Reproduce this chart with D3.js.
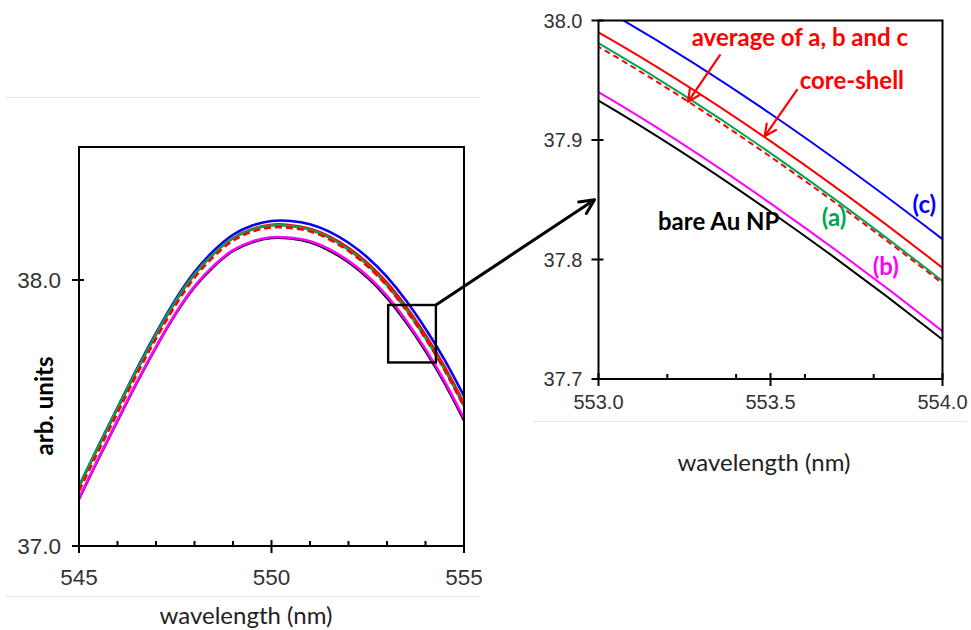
<!DOCTYPE html>
<html>
<head>
<meta charset="utf-8">
<script src="https://cdn.jsdelivr.net/npm/d3@7/dist/d3.min.js"></script>
<style>
  html, body { margin: 0; padding: 0; background: #fff; }
  svg { display: block; }
</style>
</head>
<body>
<svg id="chart" width="971" height="630"></svg>
<script>
// ---------------- DATA ----------------
const wavelengths = [545, 545.5, 546, 546.5, 547, 547.5, 548, 548.5, 549, 549.5, 550,
                     550.5, 551, 551.5, 552, 552.5, 553, 553.5, 554, 554.5, 555];
// (c)
const seriesC = [37.225, 37.375, 37.520, 37.665, 37.800, 37.925, 38.030, 38.110, 38.170, 38.205, 38.222,
                 38.222, 38.210, 38.182, 38.140, 38.084, 38.012, 37.922, 37.817, 37.699, 37.564];
// (a)
const seriesA = [37.225, 37.374, 37.518, 37.661, 37.795, 37.918, 38.021, 38.099, 38.157, 38.190, 38.205,
                 38.203, 38.189, 38.159, 38.114, 38.056, 37.981, 37.889, 37.782, 37.663, 37.526];
// core-shell
const seriesCoreShell = [37.223, 37.372, 37.516, 37.660, 37.794, 37.917, 38.021, 38.099, 38.158, 38.192, 38.208,
                 38.206, 38.193, 38.164, 38.121, 38.063, 37.990, 37.899, 37.793, 37.673, 37.537];
// average of a, b and c
const seriesAverage = [37.207, 37.356, 37.501, 37.645, 37.780, 37.904, 38.009, 38.088, 38.148, 38.182, 38.198,
                 38.196, 38.183, 38.153, 38.109, 38.051, 37.978, 37.886, 37.780, 37.660, 37.524];
// (b)
const seriesB = [37.179, 37.328, 37.472, 37.615, 37.749, 37.872, 37.976, 38.054, 38.112, 38.145, 38.161,
                 38.159, 38.146, 38.116, 38.072, 38.014, 37.940, 37.847, 37.740, 37.618, 37.480];
// bare Au NP
const seriesBare = [37.177, 37.326, 37.470, 37.613, 37.747, 37.870, 37.973, 38.051, 38.109, 38.142, 38.158,
                 38.156, 38.142, 38.111, 38.067, 38.008, 37.933, 37.840, 37.733, 37.611, 37.472];

const seriesNames  = ["bare Au NP", "(b)", "(c)", "core-shell", "(a)", "average of a, b and c"];
const seriesValues = [seriesBare, seriesB, seriesC, seriesCoreShell, seriesA, seriesAverage];
const seriesColors = ["#000000", "#ff00ff", "#0000ff", "#ff0000", "#00a550", "#ff0000"];
const seriesDashed = [false, false, false, false, false, true];

const leftXDomain = [545, 555];
const leftYDomain = [37.0, 38.5];
const leftXMajorTicks = [545, 550, 555];
const leftXMinorTicks = [546, 547, 548, 549, 551, 552, 553, 554];
const leftYTicks = [37.0, 38.0];

const rightXDomain = [553.0, 554.0];
const rightYDomain = [37.7, 38.0];
const rightXMajorTicks = [553.0, 553.5, 554.0];
const rightXMinorTicks = [553.2, 553.4, 553.6, 553.8];
const rightYTicks = [37.7, 37.8, 37.9, 38.0];

const zoomBoxX = [553.03, 554.27];
const zoomBoxY = [37.69, 37.906];

const xTitle = "wavelength (nm)";
const yTitle = "arb. units";

// ---------------- LAYOUT ----------------
const svg = d3.select("#chart");
const L = {left: 79, right: 464, top: 147, bottom: 546};
const R = {left: 598.5, right: 942.5, top: 20.5, bottom: 379};

const xL = d3.scaleLinear().domain(leftXDomain).range([L.left, L.right]);
const yL = d3.scaleLinear().domain(leftYDomain).range([L.bottom, L.top]);
const xR = d3.scaleLinear().domain(rightXDomain).range([R.left, R.right]);
const yR = d3.scaleLinear().domain(rightYDomain).range([R.bottom, R.top]);

// faint panel border lines
const faint = "#e6e6e6";
svg.append("line").attr("x1", 5).attr("x2", 480).attr("y1", 97.5).attr("y2", 97.5).attr("stroke", faint).attr("stroke-width", 1.2);
svg.append("line").attr("x1", 5).attr("x2", 480).attr("y1", 596.5).attr("y2", 596.5).attr("stroke", faint).attr("stroke-width", 1.2);
svg.append("line").attr("x1", 533).attr("x2", 966).attr("y1", 421.5).attr("y2", 421.5).attr("stroke", faint).attr("stroke-width", 1.2);

const defs = svg.append("defs");
defs.append("clipPath").attr("id", "clipL").append("rect")
  .attr("x", L.left).attr("y", L.top).attr("width", L.right - L.left).attr("height", L.bottom - L.top);
defs.append("clipPath").attr("id", "clipR").append("rect")
  .attr("x", R.left).attr("y", R.top).attr("width", R.right - R.left).attr("height", R.bottom - R.top);

function drawPanel(g, xs, ys, box, opts) {
  const line = d3.line().x((d, i) => xs(wavelengths[i])).y(d => ys(d)).curve(d3.curveNatural);
  const lines = g.append("g").attr("clip-path", `url(#${opts.clip})`);
  seriesValues.forEach((vals, k) => {
    lines.append("path")
      .attr("d", line(vals))
      .attr("fill", "none")
      .attr("stroke", seriesColors[k])
      .attr("stroke-width", opts.lw)
      .attr("stroke-dasharray", seriesDashed[k] ? opts.dash : null);
  });
  // frame
  g.append("rect").attr("x", box.left).attr("y", box.top)
    .attr("width", box.right - box.left).attr("height", box.bottom - box.top)
    .attr("fill", "none").attr("stroke", "#000").attr("stroke-width", 2);
  // x ticks
  const tk = g.append("g").attr("stroke", "#000").attr("stroke-width", 2);
  opts.xMajor.forEach(t => tk.append("line").attr("x1", xs(t)).attr("x2", xs(t))
      .attr("y1", box.bottom - 6).attr("y2", box.bottom + 7));
  opts.xMinor.forEach(t => tk.append("line").attr("x1", xs(t)).attr("x2", xs(t))
      .attr("y1", box.bottom - 5).attr("y2", box.bottom));
  opts.yTicks.forEach(t => tk.append("line").attr("y1", ys(t)).attr("y2", ys(t))
      .attr("x1", box.left - 7).attr("x2", box.left + 5));
  // tick labels
  g.selectAll(null).data(opts.xMajor).enter().append("text")
    .attr("x", d => xs(d)).attr("y", box.bottom + opts.xLabelDy)
    .attr("text-anchor", "middle")
    .attr("font-family", "Liberation Sans, Arial, sans-serif")
    .attr("font-size", opts.fs).attr("fill", "#333")
    .text(d => d3.format(opts.xFmt)(d));
  g.selectAll(null).data(opts.yTicks).enter().append("text")
    .attr("x", box.left - opts.yLabelGap).attr("y", d => ys(d))
    .attr("dy", "0.36em")
    .attr("text-anchor", "end")
    .attr("font-family", "Liberation Sans, Arial, sans-serif")
    .attr("font-size", opts.fs).attr("fill", "#333")
    .text(d => d3.format(".1f")(d));
}

const gL = svg.append("g");
drawPanel(gL, xL, yL, L, {clip: "clipL", lw: 2.6, dash: "7,4", xMajor: leftXMajorTicks, xMinor: leftXMinorTicks,
  yTicks: leftYTicks, fs: 22.5, xLabelDy: 39, xFmt: "d", yLabelGap: 18});
const gR = svg.append("g");
drawPanel(gR, xR, yR, R, {clip: "clipR", lw: 2, dash: "6,4", xMajor: rightXMajorTicks, xMinor: rightXMinorTicks,
  yTicks: rightYTicks, fs: 20, xLabelDy: 30, xFmt: ".1f", yLabelGap: 16});

// axis titles
svg.append("text").attr("x", 246).attr("y", 624).attr("text-anchor", "middle")
  .attr("font-family", "Lato, sans-serif").attr("font-size", 24).attr("fill", "#222").text(xTitle);
svg.append("text").attr("x", 764).attr("y", 471).attr("text-anchor", "middle")
  .attr("font-family", "Lato, sans-serif").attr("font-size", 24).attr("fill", "#222").text(xTitle);
svg.append("text").attr("transform", "translate(53,406) rotate(-90)").attr("text-anchor", "middle")
  .attr("font-family", "Lato, sans-serif").attr("font-weight", "bold").attr("font-size", 24).attr("fill", "#000").text(yTitle);

// zoom box on left panel
svg.append("rect")
  .attr("x", xL(zoomBoxX[0])).attr("y", yL(zoomBoxY[1]))
  .attr("width", xL(zoomBoxX[1]) - xL(zoomBoxX[0])).attr("height", yL(zoomBoxY[0]) - yL(zoomBoxY[1]))
  .attr("fill", "none").attr("stroke", "#000").attr("stroke-width", 2.4);

function arrow(x1, y1, x2, y2, color, w, head) {
  const a = Math.atan2(y2 - y1, x2 - x1);
  const sp = 0.45;
  svg.append("path")
    .attr("d", `M${x1},${y1}L${x2},${y2}` +
      `M${x2 - head * Math.cos(a - sp)},${y2 - head * Math.sin(a - sp)}L${x2},${y2}` +
      `L${x2 - head * Math.cos(a + sp)},${y2 - head * Math.sin(a + sp)}`)
    .attr("fill", "none").attr("stroke", color).attr("stroke-width", w)
    .attr("stroke-linecap", "round").attr("stroke-linejoin", "round");
}
// big arrow from zoom box to inset
arrow(xL(zoomBoxX[1]), yL(zoomBoxY[1]), xR(553.0) - 4, yR(37.85), "#000", 3, 16);

// annotations on inset
arrow(xR(553.353), yR(37.971), xR(553.26), yR(37.932), "#ff0000", 2.2, 13);
arrow(xR(553.577), yR(37.942), xR(553.483), yR(37.903), "#ff0000", 2.2, 13);

const ann = [
  {t: "average of a, b and c", x: 553.271, y: 37.9855, c: "#ff0000"},
  {t: "core-shell", x: 553.585, y: 37.950, c: "#ff0000"},
  {t: "(c)", x: 553.913, y: 37.846, c: "#0000ff"},
  {t: "(a)", x: 553.649, y: 37.835, c: "#00a550"},
  {t: "(b)", x: 553.797, y: 37.794, c: "#ff00ff"},
  {t: "bare Au NP", x: 553.173, y: 37.832, c: "#000000"}
];
svg.selectAll(null).data(ann).enter().append("text")
  .attr("x", d => xR(d.x)).attr("y", d => yR(d.y)).attr("dy", "0.35em")
  .attr("font-family", "Lato, sans-serif").attr("font-weight", "bold").attr("font-size", 24)
  .attr("fill", d => d.c).text(d => d.t);
</script>
</body>
</html>
